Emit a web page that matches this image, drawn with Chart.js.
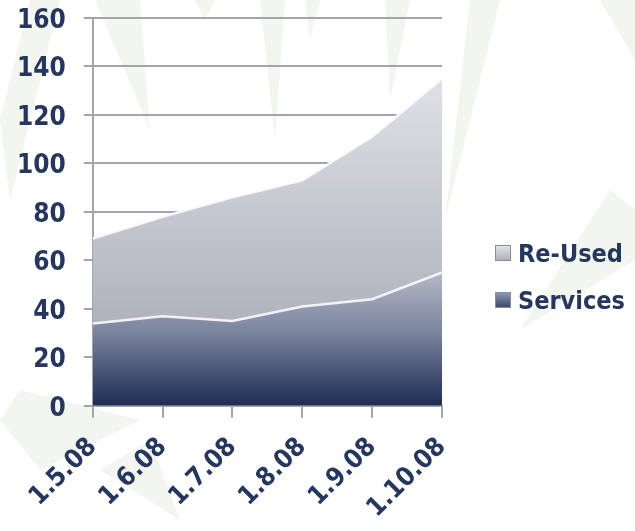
<!DOCTYPE html>
<html>
<head>
<meta charset="utf-8">
<script src="https://cdn.jsdelivr.net/npm/chart.js@4.4.0/dist/chart.umd.min.js"></script>
<style>
  html, body { margin: 0; padding: 0; background: #fff; }
  #wrap { position: relative; width: 635px; height: 531px; }
  #legend {
    position: absolute; left: 495px; top: 236px;
    font-family: "DejaVu Sans Condensed", "DejaVu Sans", sans-serif;
    font-size: 25px; font-weight: bold; color: #25365f;
  }
  #legend div { height: 47px; line-height: 36px; white-space: nowrap; }
  #legend span.box {
    display: inline-block; width: 14px; height: 14px; margin-right: 7px;
    border: 1px solid #8a8e9a; vertical-align: 1px;
  }
</style>
</head>
<body>
<div id="wrap">
  <canvas id="myChart" width="635" height="531"></canvas>
  <div id="legend"></div>
</div>
<script>
// data
const months = ['1.5.08', '1.6.08', '1.7.08', '1.8.08', '1.9.08', '1.10.08'];
const services = [34, 37, 35, 41, 44, 55];
const reUsed = [35, 41, 51, 52, 67, 80];
const yTicks = [0, 20, 40, 60, 80, 100, 120, 140, 160];

const navy = '#25365f';
const gridGray = '#a3a5ae';
const fontFam = '"DejaVu Sans Condensed", "DejaVu Sans", sans-serif';

// faint palm leaves behind the chart
const leaves = {
    id: 'leaves',
    beforeDraw(chart) {
        const c = chart.ctx;
        c.save();
        c.fillStyle = '#f2f6ee';
        const shapes = [
            [[0, 120], [30, 0], [60, 0], [10, 200]],
            [[95, 0], [140, 0], [150, 130]],
            [[195, 0], [215, 0], [205, 20]],
            [[260, 0], [285, 0], [275, 140]],
            [[305, 0], [320, 0], [310, 40]],
            [[385, 0], [410, 0], [390, 100]],
            [[470, 0], [500, 0], [445, 220]],
            [[520, 330], [610, 190], [635, 210], [635, 260]],
            [[0, 420], [20, 390], [140, 420], [40, 470]],
            [[100, 470], [150, 440], [180, 520]],
            [[600, 0], [635, 0], [635, 60]]
        ];
        shapes.forEach(s => {
            c.beginPath();
            c.moveTo(s[0][0], s[0][1]);
            for (let i = 1; i < s.length; i++) c.lineTo(s[i][0], s[i][1]);
            c.closePath();
            c.fill();
        });
        c.restore();
    }
};

function servicesFill(context) {
    const chart = context.chart;
    const area = chart.chartArea;
    if (!area) return '#3a4a70';
    const top = chart.scales.y.getPixelForValue(Math.max(...services));
    const g = chart.ctx.createLinearGradient(0, top, 0, area.bottom);
    g.addColorStop(0, '#b3b8c6');
    g.addColorStop(0.45, '#7a849d');
    g.addColorStop(1, '#1d2c53');
    return g;
}

function reUsedFill(context) {
    const area = context.chart.chartArea;
    if (!area) return '#c0c3cb';
    const g = context.chart.ctx.createLinearGradient(0, area.top + 60, 0, area.bottom - 90);
    g.addColorStop(0, '#e0e1e7');
    g.addColorStop(1, '#b1b4be');
    return g;
}

const ctx = document.getElementById('myChart').getContext('2d');

const myChart = new Chart(ctx, {
    type: 'line',
    data: {
        labels: months,
        datasets: [{
            label: 'Services',
            data: services,
            fill: 'origin',
            backgroundColor: servicesFill,
            borderColor: 'rgba(245, 246, 252, 0.95)',
            borderWidth: 2.5,
            pointRadius: 0,
            tension: 0
        }, {
            label: 'Re-Used',
            data: reUsed,
            fill: '-1',
            backgroundColor: reUsedFill,
            borderColor: 'rgba(250, 250, 255, 0.95)',
            borderWidth: 2.5,
            pointRadius: 0,
            tension: 0
        }]
    },
    options: {
        responsive: false,
        animation: false,
        layout: {
            padding: { left: -1, top: 18, right: 193, bottom: -7 }
        },
        plugins: {
            legend: { display: false },
            tooltip: { enabled: false }
        },
        scales: {
            x: {
                offset: false,
                grid: {
                    drawOnChartArea: false,
                    color: gridGray,
                    lineWidth: 2,
                    tickLength: 12
                },
                border: { color: gridGray, width: 2 },
                ticks: {
                    color: navy,
                    font: { family: fontFam, size: 26, weight: 'bold' },
                    maxRotation: 45,
                    minRotation: 45,
                    padding: 14
                }
            },
            y: {
                stacked: true,
                min: 0,
                max: 160,
                afterBuildTicks(scale) {
                    scale.ticks = yTicks.map(v => ({ value: v }));
                },
                afterFit(scale) {
                    scale.paddingTop = 0;
                    scale.paddingBottom = 0;
                },
                grid: {
                    color: gridGray,
                    lineWidth: 2,
                    tickLength: 9
                },
                border: { color: gridGray, width: 2 },
                ticks: {
                    color: navy,
                    font: { family: fontFam, size: 26, weight: 'bold' },
                    padding: 18,
                    labelOffset: 3
                }
            }
        }
    },
    plugins: [leaves]
});

// legend as html, Re-Used on top
const boxCols = { 'Services': 'linear-gradient(#8d97ad, #3c4a6d)', 'Re-Used': 'linear-gradient(#e2e3e8, #aeb1bb)' };
const legendEl = document.getElementById('legend');
myChart.data.datasets.slice().reverse().forEach(ds => {
    const row = document.createElement('div');
    const box = document.createElement('span');
    box.className = 'box';
    box.style.background = boxCols[ds.label];
    row.appendChild(box);
    row.appendChild(document.createTextNode(ds.label));
    legendEl.appendChild(row);
});
</script>
</body>
</html>
